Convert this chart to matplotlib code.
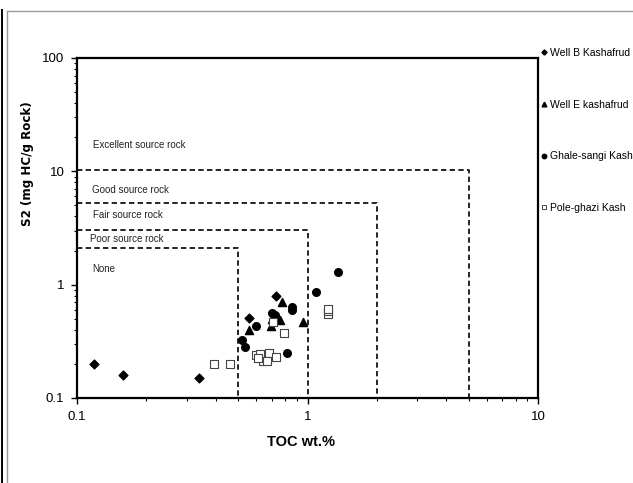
import matplotlib
matplotlib.use("Agg")
import matplotlib.pyplot as plt
from matplotlib.lines import Line2D

# TOC (wt.%) and S2 (mg HC/g rock)
wellB_toc = [0.119, 0.158, 0.338, 0.555, 0.732]
wellB_s2 = [0.200, 0.161, 0.151, 0.513, 0.800]

wellE_toc = [0.555, 0.692, 0.760, 0.775, 0.959, 0.614, 0.73, 0.70]
wellE_s2 = [0.402, 0.429, 0.488, 0.703, 0.464, 0.228, 0.52, 0.50]

ghale_toc = [1.352, 1.085, 0.859, 0.859, 0.700, 0.596, 0.521, 0.534, 0.818, 0.72]
ghale_s2 = [1.29, 0.867, 0.635, 0.597, 0.559, 0.429, 0.325, 0.284, 0.252, 0.54]

pole_toc = [0.393, 0.463, 0.788, 1.224, 1.224, 1.224, 0.711, 0.600, 0.622, 0.681, 0.639, 0.669, 0.732, 0.610]
pole_s2 = [0.2015, 0.2015, 0.377, 0.55, 0.58, 0.61, 0.464, 0.240, 0.244, 0.252, 0.213, 0.213, 0.228, 0.225]

# source rock class boundaries
limit_toc = [0.5, 1, 2, 5]
limit_s2 = [2.1, 3.05, 5.3, 10.3]

zone_names = ["None", "Poor source rock", "Fair source rock", "Good source rock", "Excellent source rock"]
zone_s2 = [1.37, 2.53, 4.12, 6.85, 17.1]
zone_toc = [0.117, 0.114, 0.117, 0.116, 0.117]

# legend names as far as the reference shows them
series_names = ["Well B Kashafrud", "Well E kashafrud", "Ghale-sangi Kash", "Pole-ghazi Kash"]

W, H = 633, 483
fig = plt.figure(figsize=(W / 100, H / 100), dpi=100)
ax = fig.add_axes([77 / W, 1 - 398 / H, (538 - 77) / W, (398 - 58) / H])

narrow = ["Liberation Sans Narrow", "Liberation Sans", "DejaVu Sans"]
arial = ["Liberation Sans", "DejaVu Sans"]

# dashed class boundaries
for t, s in zip(limit_toc, limit_s2):
    ax.plot([0.1, t, t], [s, s, 0.1], color="black", lw=1.2,
            linestyle=(0, (3.2, 2.0)), zorder=1)

for name, t, s in zip(zone_names, zone_toc, zone_s2):
    ax.text(t, s, name, fontsize=7, family=narrow, va="center", ha="left", color="#222222")

ax.scatter(wellB_toc, wellB_s2, marker="D", s=20, color="black", zorder=3)
ax.scatter(wellE_toc, wellE_s2, marker="^", s=34, color="black", zorder=3)
ax.scatter(ghale_toc, ghale_s2, marker="o", s=30, color="black", zorder=3)
ax.scatter(pole_toc, pole_s2, marker="s", s=30, facecolor="white", edgecolor="#444444",
           linewidths=0.8, zorder=4)

ax.set_xscale("log")
ax.set_yscale("log")
ax.set_xlim(0.1, 10)
ax.set_ylim(0.1, 100)
ax.set_xticks([0.1, 1, 10])
ax.set_xticklabels(["0.1", "1", "10"])
ax.set_yticks([0.1, 1, 10, 100])
ax.set_yticklabels(["0.1", "1", "10", "100"])
for lab in ax.get_xticklabels() + ax.get_yticklabels():
    lab.set_family(arial)
    lab.set_fontsize(9.5)
ax.tick_params(which="major", direction="out", length=4, width=1, pad=5)
ax.tick_params(which="minor", direction="out", length=2.5, width=0.8)
for sp in ax.spines.values():
    sp.set_linewidth(1.6)

ax.set_xlabel("TOC wt.%", fontsize=10.5, fontweight="bold", family=arial)
ax.xaxis.set_label_coords((301 - 77) / (538 - 77), -(442 - 398) / (398 - 58))
ax.xaxis.label.set_va("center")
fig.text(27 / W, 1 - 164 / H, "S2 (mg HC/g Rock)", rotation=90, fontsize=8.6,
         fontweight="bold", family=["DejaVu Sans"], ha="center", va="center")

# legend outside right of the plot area
handles = [
    Line2D([], [], marker="D", color="black", ls="none", markersize=2.6),
    Line2D([], [], marker="^", color="black", ls="none", markersize=3.4),
    Line2D([], [], marker="o", color="black", ls="none", markersize=3.2),
    Line2D([], [], marker="s", markerfacecolor="white", markeredgecolor="#444444",
           markeredgewidth=0.7, ls="none", markersize=3.4),
]
leg = ax.legend(handles, series_names, loc="upper left",
                bbox_to_anchor=(541 / W, 1 - 48 / H), bbox_transform=fig.transFigure,
                frameon=False, handlelength=0.6, handletextpad=0.3, borderpad=0,
                borderaxespad=0, labelspacing=4.0, prop={"family": narrow, "size": 7.5})

# outer frame lines of the original figure
fig.add_artist(Line2D([7.5 / W, 7.5 / W], [0, 1 - 11 / H], color="#999999", lw=1.0))
fig.add_artist(Line2D([7.5 / W, 1], [1 - 11 / H, 1 - 11 / H], color="#999999", lw=1.0))
fig.add_artist(Line2D([1.5 / W, 1.5 / W], [0, 1 - 10 / H], color="black", lw=1.4))

fig.savefig("out.png", dpi=100)
